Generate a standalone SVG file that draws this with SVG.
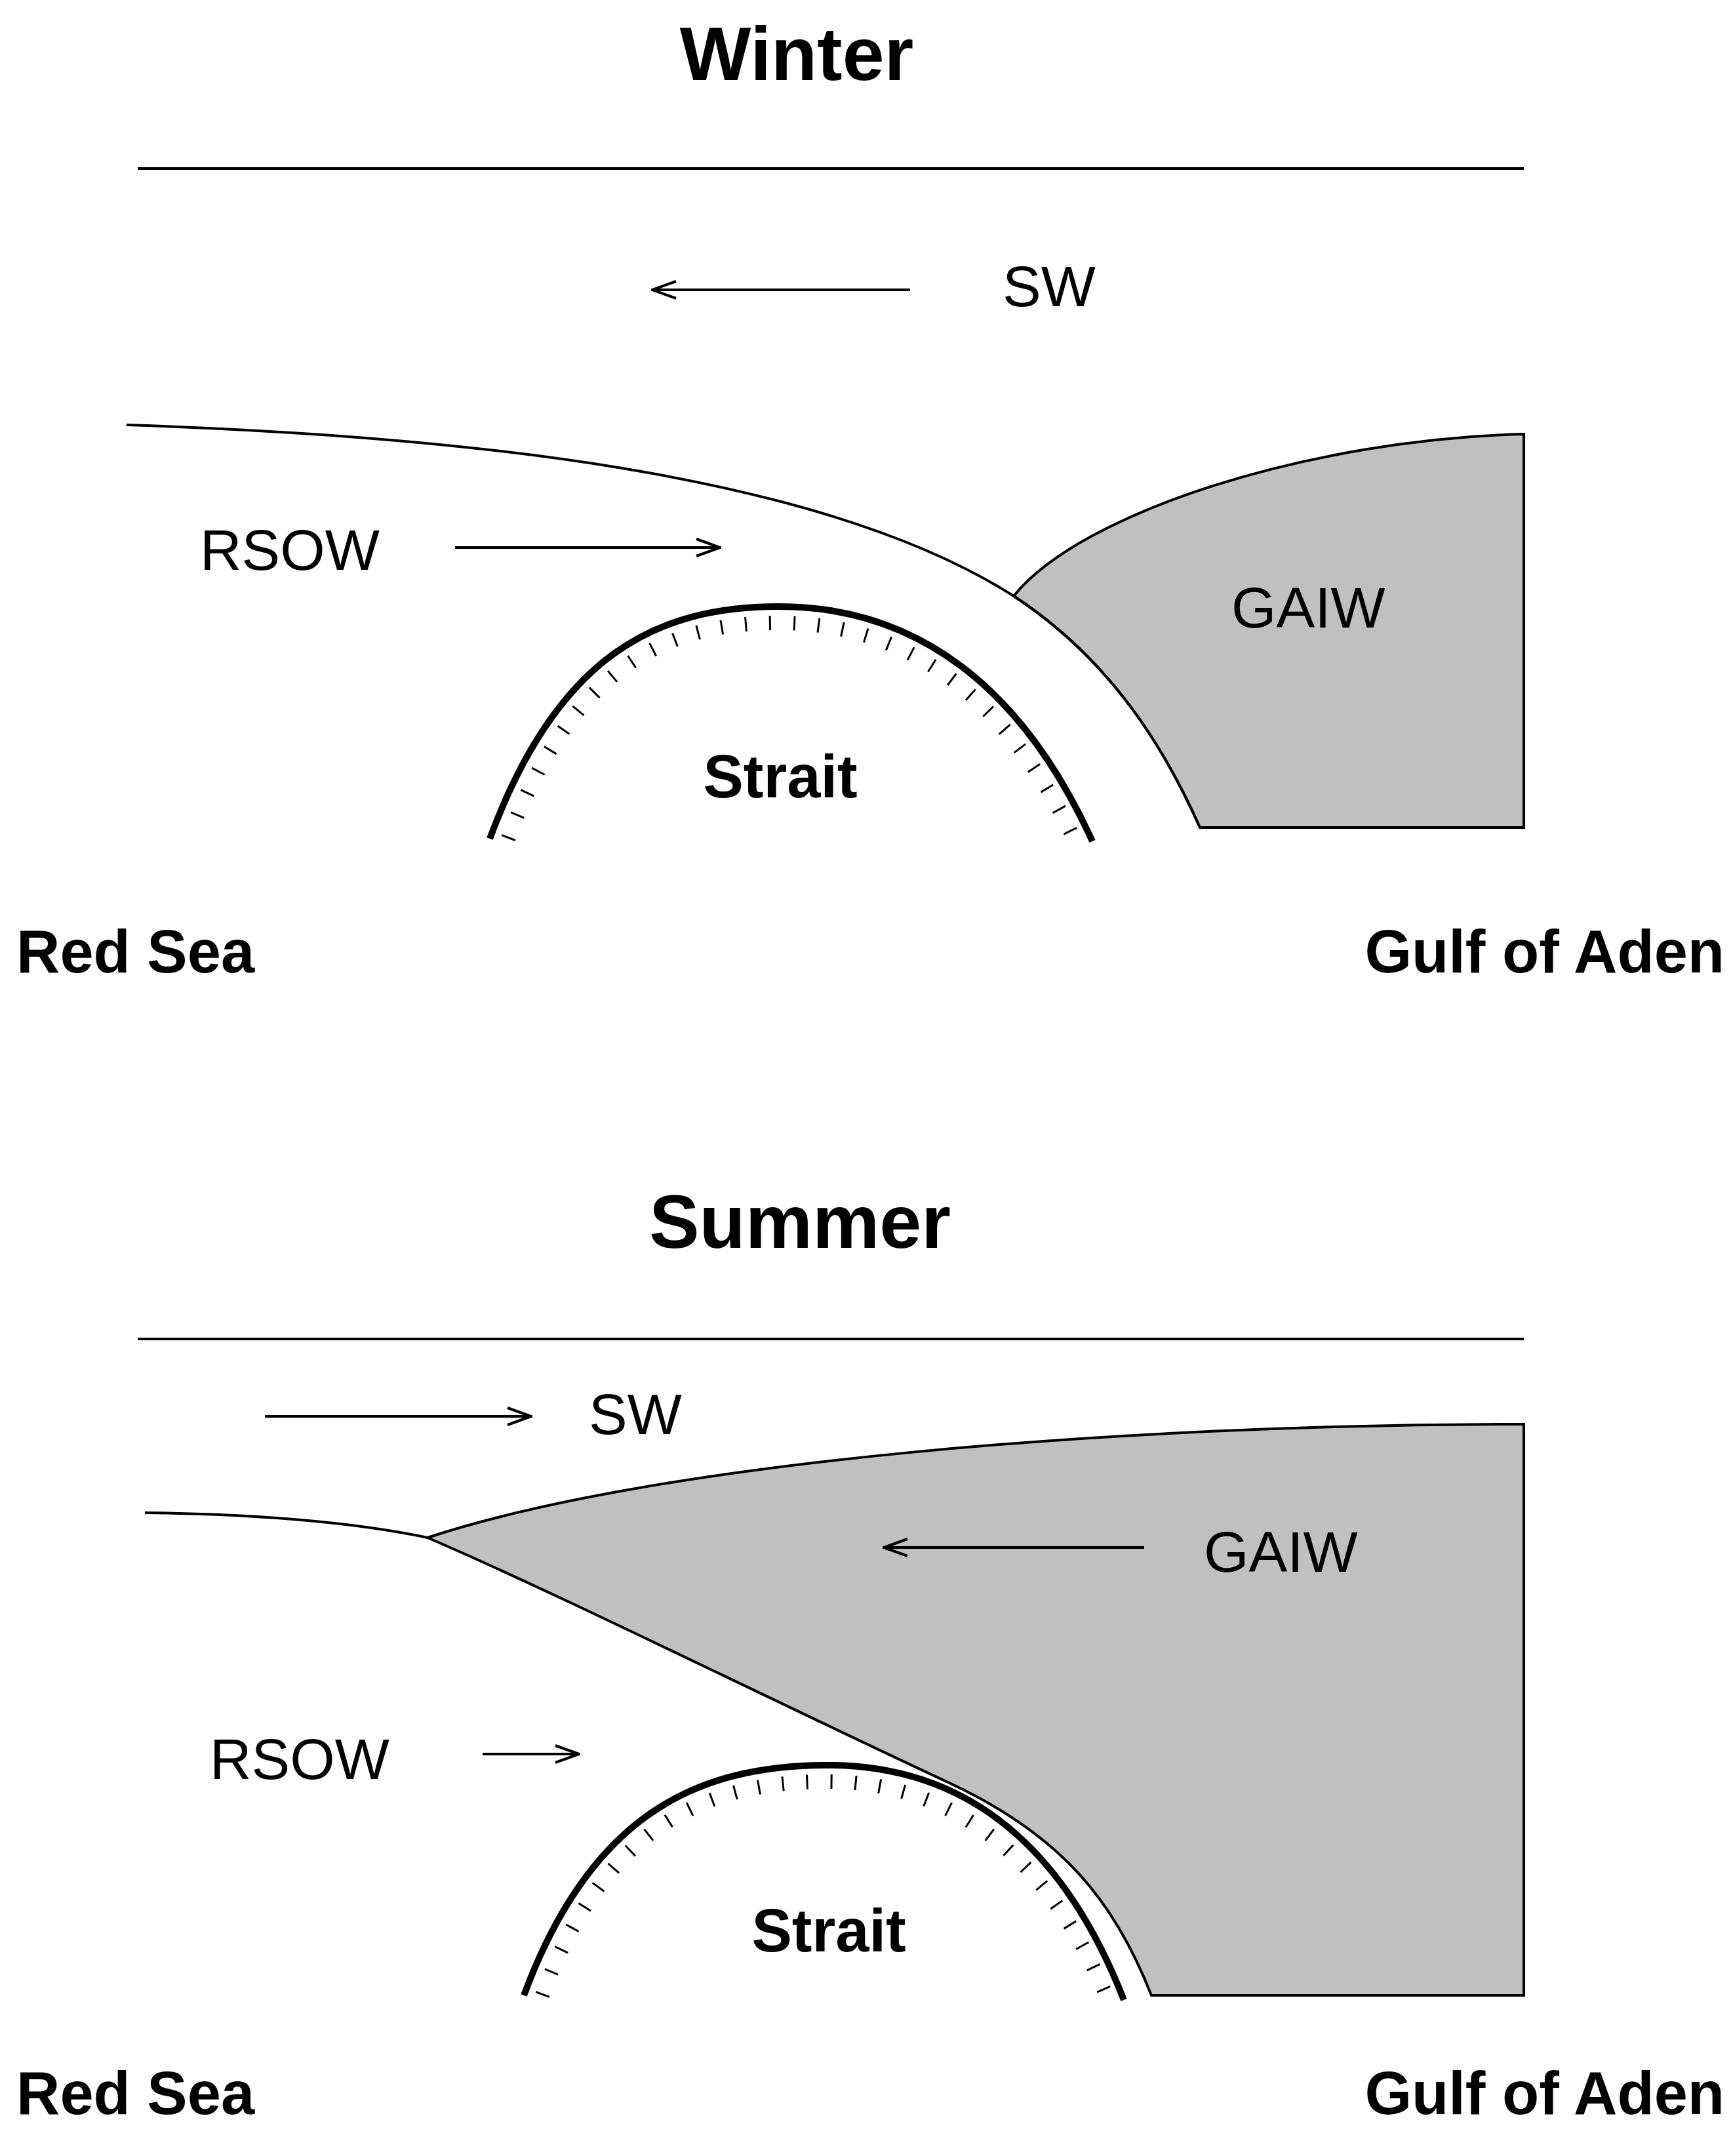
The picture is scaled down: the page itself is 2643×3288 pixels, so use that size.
<svg xmlns="http://www.w3.org/2000/svg" width="2643" height="3288" viewBox="0 0 2643 3288">
<style>
.t{font-family:"Liberation Sans",Arial,sans-serif;fill:#000}
.b{font-weight:bold}
.ln{fill:none;stroke:#000;stroke-width:4}
.ar{fill:none;stroke:#000;stroke-width:4;marker-end:url(#ah)}
.gr{fill:#c0c0c0;stroke:#000;stroke-width:4}
.st{fill:none;stroke:#000;stroke-width:10}
.tk{fill:none;stroke:#000;stroke-width:22;stroke-dasharray:3 34}
</style>
<defs>
<marker id="ah" markerWidth="12" markerHeight="12" refX="10" refY="6" orient="auto" markerUnits="userSpaceOnUse" viewBox="0 0 12 12">
<path d="M0,0 L11,6 L0,12" fill="none" stroke="#000" stroke-width="0"/>
</marker>
<marker id="ah2" markerWidth="40" markerHeight="30" refX="38" refY="15" orient="auto" markerUnits="userSpaceOnUse">
<path d="M2,2 L38,15 L2,28" fill="none" stroke="#000" stroke-width="4"/>
</marker>
</defs>
<g id="winter">
<text class="t b" x="1215" y="122" font-size="115" text-anchor="middle">Winter</text>
<line class="ln" x1="210" y1="257" x2="2324" y2="257"/>
<path class="gr" d="M1546,909 C1650,780 2000,670 2324,662 L2324,1262 L1830,1262 C1780,1150 1700,1010 1546,909 Z"/>
<path class="ln" d="M193,648 C700,665 1250,720 1546,909 C1700,1010 1780,1150 1830,1262"/>
<line class="ln" x1="1388" y1="442" x2="995" y2="442" marker-end="url(#ah2)"/>
<text class="t" x="1529" y="467" font-size="88">SW</text>
<text class="t" x="305" y="869" font-size="88">RSOW</text>
<line class="ln" x1="694" y1="835" x2="1098" y2="835" marker-end="url(#ah2)"/>
<text class="t" x="1878" y="957" font-size="88">GAIW</text>
<path class="tk" d="M775,1279 C874,1016 1016,950 1188,950 C1386,950 1536,1064 1640,1283"/>
<path class="st" d="M747,1279 C850,1000 1000,925 1188,925 C1400,925 1560,1050 1666,1283"/>
<text class="t b" x="1190" y="1216" font-size="92" text-anchor="middle">Strait</text>
<text class="t b" x="25" y="1483" font-size="92">Red Sea</text>
<text class="t b" x="2630" y="1483" font-size="92" text-anchor="end">Gulf of Aden</text>
</g>
<g id="summer">
<text class="t b" x="1220" y="1903" font-size="115" text-anchor="middle">Summer</text>
<line class="ln" x1="210" y1="2042" x2="2324" y2="2042"/>
<line class="ln" x1="404" y1="2160" x2="810" y2="2160" marker-end="url(#ah2)"/>
<text class="t" x="898" y="2187" font-size="88">SW</text>
<path class="ln" d="M221,2307 C450,2310 580,2330 652,2345"/>
<path class="gr" d="M652,2345 C1000,2230 1700,2172 2324,2172 L2324,3043 L1756,3043 C1700,2900 1620,2800 1450,2720 C1150,2580 850,2430 652,2345 Z"/>
<line class="ln" x1="1745" y1="2360" x2="1348" y2="2360" marker-end="url(#ah2)"/>
<text class="t" x="1836" y="2397" font-size="88">GAIW</text>
<text class="t" x="320" y="2713" font-size="88">RSOW</text>
<line class="ln" x1="736" y1="2675" x2="883" y2="2675" marker-end="url(#ah2)"/>
<path class="tk" d="M827,3043 C920,2790 1070,2717 1262,2717 C1450,2717 1600,2830 1690,3050"/>
<path class="st" d="M799,3043 C900,2770 1060,2692 1262,2692 C1470,2692 1620,2810 1714,3050"/>
<text class="t b" x="1264" y="2976" font-size="92" text-anchor="middle">Strait</text>
<text class="t b" x="25" y="3224" font-size="92">Red Sea</text>
<text class="t b" x="2630" y="3224" font-size="92" text-anchor="end">Gulf of Aden</text>
</g>
</svg>
